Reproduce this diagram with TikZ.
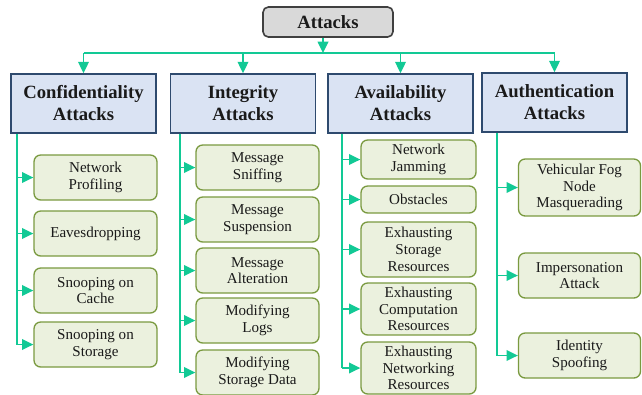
\documentclass[tikz,border=0pt]{standalone}
\usepackage{fontspec}
\setmainfont{Liberation Serif}
\usetikzlibrary{arrows.meta,positioning}
\definecolor{ink}{HTML}{1A1A1A}
\definecolor{wire}{HTML}{12C995}
\definecolor{catfill}{HTML}{DAE3F3}
\definecolor{catline}{HTML}{2E4A6E}
\definecolor{leaffill}{HTML}{EBF1DE}
\definecolor{leafline}{HTML}{7A9A40}
\definecolor{rootfill}{HTML}{D9D9D9}
\definecolor{rootline}{HTML}{404040}

\begin{document}
\begin{tikzpicture}[x=.75pt,y=-.75pt,>={Triangle[length=8.5pt,width=8pt]},every node/.style={text=ink,align=center,inner sep=0pt},root/.style={draw=rootline,fill=rootfill,rounded corners=4pt,line width=1.2pt,minimum width=97.5pt,minimum height=22.5pt,font=\bfseries\fontsize{14}{16}\selectfont},cat/.style={draw=catline,fill=catfill,line width=1.2pt,minimum width=108.75pt,minimum height=44.25pt,font=\bfseries\fontsize{14}{16.5}\selectfont},leaf/.style={draw=leafline,fill=leaffill,rounded corners=5pt,line width=1pt,minimum width=92.25pt,minimum height=33.75pt,font=\fontsize{11.3}{12.5}\selectfont},link/.style={wire,line width=1.1pt},flow/.style={->,wire,line width=1.1pt}]
\path[use as bounding box] (0,0) rectangle (642,394);

% top level
\node[root] (root) at (328,22) {Attacks};
\node[cat] (conf) at (83.5,103.5) {Confidentiality\\Attacks};
\node[cat] (integ) at (243,103.5) {Integrity\\Attacks};
\node[cat] (avail) at (400.5,103.5) {Availability\\Attacks};
\node[cat] (auth) at (554.5,102.5) {Authentication\\Attacks};

% confidentiality
\node[leaf] (profiling) at (95.5,177.5) {Network\\Profiling};
\node[leaf] (eaves) at (95.5,233.5) {Eavesdropping};
\node[leaf] (cache) at (95.5,290.5) {Snooping on\\Cache};
\node[leaf] (storage) at (95.5,344.5) {Snooping on\\Storage};

% integrity
\node[leaf] (sniff) at (257.5,167.5) {Message\\Sniffing};
\node[leaf] (suspend) at (257.5,219.5) {Message\\Suspension};
\node[leaf] (alter) at (257.5,270.5) {Message\\Alteration};
\node[leaf] (logs) at (257.5,320.5) {Modifying\\Logs};
\node[leaf] (data) at (257.5,372.5) {Modifying\\Storage Data};

% availability
\node[leaf,minimum width=86.25pt,minimum height=29.25pt] (jam) at (418.5,159.5) {Network\\Jamming};
\node[leaf,minimum width=86.25pt,minimum height=20.25pt] (obst) at (418.5,199.5) {Obstacles};
\node[leaf,minimum width=86.25pt,minimum height=41.25pt] (exstor) at (418.5,249.5) {Exhausting\\Storage\\Resources};
\node[leaf,minimum width=86.25pt,minimum height=39pt] (excomp) at (418.5,309) {Exhausting\\Computation\\Resources};
\node[leaf,minimum width=86.25pt,minimum height=39pt] (exnet) at (418.5,368) {Exhausting\\Networking\\Resources};

% authentication
\node[leaf,minimum width=91.5pt,minimum height=42.75pt] (masq) at (579.5,187.5) {Vehicular Fog\\Node\\Masquerading};
\node[leaf,minimum width=91.5pt] (imperson) at (579.5,275.5) {Impersonation\\Attack};
\node[leaf,minimum width=91.5pt] (spoof) at (579.5,355.5) {Identity\\Spoofing};

% bus
\coordinate (bus) at (323,53);
\draw[flow] (root.south -| bus) -- (bus);
\draw[link] (conf.north |- bus) -- (auth.north |- bus);
\foreach \c in {conf,integ,avail,auth} \draw[flow] (\c.north |- bus) -- (\c.north);

% spines
\coordinate (sc) at (17,0);
\coordinate (si) at (180,0);
\coordinate (sa) at (342,0);
\coordinate (su) at (497,0);
\draw[link] (conf.south -| sc) -- (sc |- storage.west);
\draw[link] (integ.south -| si) -- (si |- data.west);
\draw[link] (avail.south -| sa) -- (sa |- exnet.west);
\draw[link] (auth.south -| su) -- (su |- spoof.west);
\foreach \l in {profiling,eaves,cache,storage} \draw[flow] (sc |- \l.west) -- (\l.west);
\foreach \l in {sniff,suspend,alter,logs,data} \draw[flow] (si |- \l.west) -- (\l.west);
\foreach \l in {jam,obst,exstor,excomp,exnet} \draw[flow] (sa |- \l.west) -- (\l.west);
\foreach \l in {masq,imperson,spoof} \draw[flow] (su |- \l.west) -- (\l.west);

\end{tikzpicture}
\end{document}
